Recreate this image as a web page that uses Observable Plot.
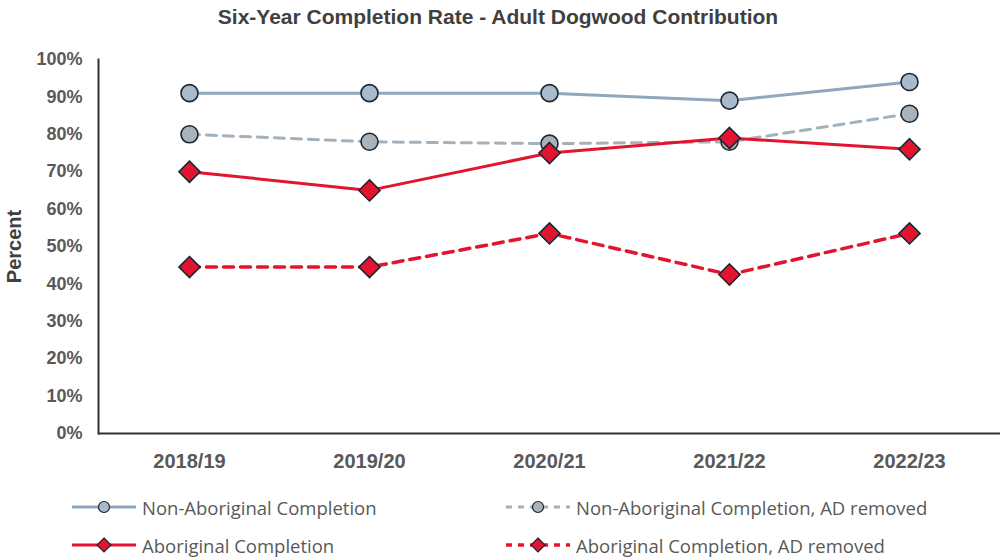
<!DOCTYPE html>
<html>
<head>
<meta charset="utf-8">
<script src="https://cdn.jsdelivr.net/npm/d3@7"></script>
<script src="https://cdn.jsdelivr.net/npm/@observablehq/plot@0.6"></script>
<style>
  html, body { margin: 0; padding: 0; background: #fff; }
  #wrap { position: relative; width: 1003px; height: 559px; overflow: hidden; font-family: "Liberation Sans", Arial, sans-serif; }
  #title { position: absolute; left: 0; top: 7px; width: 996px; text-align: center; font-weight: bold; font-size: 21px; line-height: 20px; color: #404040; }
  #chart { position: absolute; left: 0; top: 40px; }
  #legend { position: absolute; left: 0; top: 0; width: 1003px; height: 559px; pointer-events: none; }
  .lg { position: absolute; display: flex; align-items: center; font-family: "Open Sans", sans-serif; font-size: 18.5px; color: #595959; white-space: nowrap; }
  .lg svg { margin-right: 6px; }
</style>
</head>
<body>
<div id="wrap">
  <div id="title">Six-Year Completion Rate - Adult Dogwood Contribution</div>
  <div id="chart"></div>
  <div id="legend"></div>
</div>
<script>
const years = ["2018/19", "2019/20", "2020/21", "2021/22", "2022/23"];
const nonAboriginal = [91, 91, 91, 89, 94];
const nonAboriginalADRemoved = [80, 78, 77.5, 78, 85.5];
const aboriginal = [70, 65, 75, 79, 76];
const aboriginalADRemoved = [44.5, 44.5, 53.5, 42.5, 53.5];
const yTicks = [0, 10, 20, 30, 40, 50, 60, 70, 80, 90, 100];

const seriesInfo = [
  {name: "Non-Aboriginal Completion", values: nonAboriginal, stroke: "#8FA8BE", fill: "#A9BBCA", dash: null, width: 3, symbol: "circle"},
  {name: "Non-Aboriginal Completion, AD removed", values: nonAboriginalADRemoved, stroke: "#A3B1BD", fill: "#A8B3BC", dash: "10,7", width: 3, symbol: "circle"},
  {name: "Aboriginal Completion", values: aboriginal, stroke: "#E3142F", fill: "#E3142F", dash: null, width: 3, symbol: "diamond2"},
  {name: "Aboriginal Completion, AD removed", values: aboriginalADRemoved, stroke: "#E3142F", fill: "#E3142F", dash: "10,7", width: 3.5, symbol: "diamond2"}
];

const rows = s => years.map((y, i) => ({year: y, value: s.values[i], series: s.name}));

const marks = [];
marks.push(Plot.ruleY([0], {stroke: "#333", strokeWidth: 2}));
marks.push(Plot.frame({anchor: "left", stroke: "#333", strokeWidth: 2}));
for (const s of seriesInfo) {
  marks.push(Plot.line(rows(s), {x: "year", y: "value", stroke: s.stroke, strokeWidth: s.width, strokeDasharray: s.dash}));
}
for (const s of seriesInfo) {
  marks.push(Plot.dot(rows(s), {x: "year", y: "value", symbol: s.symbol, r: s.symbol === "circle" ? 8.5 : 9.5, fill: s.fill, stroke: "#1c2630", strokeWidth: 1.6}));
}

const chart = Plot.plot({
  width: 1003,
  height: 440,
  marginLeft: 98,
  marginRight: 3,
  marginTop: 19,
  marginBottom: 47,
  x: {type: "point", domain: years, padding: 0.5, label: null, tickSize: 0},
  y: {domain: [0, 100], label: null, tickSize: 0},
  style: {fontFamily: "'Liberation Sans', Arial, sans-serif", background: "#fff", overflow: "visible"},
  marks: [
    Plot.axisY({ticks: yTicks, tickFormat: d => d + "%", tickSize: 0, tickPadding: 16, label: null, fontSize: 18, fontWeight: "bold", fill: "#595959"}),
    Plot.axisX({tickSize: 0, tickPadding: 20, label: null, fontSize: 20, fontWeight: "bold", fill: "#595959"}),
    Plot.text(["Percent"], {frameAnchor: "left", textAnchor: "middle", dx: -84, rotate: -90, fontSize: 20, fontWeight: "bold", fill: "#404040"}),
    ...marks
  ]
});
document.getElementById("chart").appendChild(chart);

// Legend
const legendPos = [
  {left: 72, top: 507},
  {left: 506, top: 507},
  {left: 72, top: 545},
  {left: 506, top: 545}
];
const legend = document.getElementById("legend");
seriesInfo.forEach((s, i) => {
  const p = legendPos[i];
  const div = document.createElement("div");
  div.className = "lg";
  div.style.left = p.left + "px";
  div.style.top = (p.top - 12) + "px";
  div.style.height = "24px";
  const svg = d3.create("svg").attr("width", 64).attr("height", 24);
  svg.append("line").attr("x1", 0).attr("x2", 64).attr("y1", 12).attr("y2", 12)
    .attr("stroke", s.stroke).attr("stroke-width", s.width)
    .attr("stroke-dasharray", s.dash ? "6,6" : null);
  if (s.symbol === "circle") {
    svg.append("circle").attr("cx", 32).attr("cy", 12).attr("r", 5.5).attr("fill", s.fill).attr("stroke", "#1c2630").attr("stroke-width", 1.2);
  } else {
    svg.append("path").attr("d", "M32,5L39,12L32,19L25,12Z").attr("fill", s.fill).attr("stroke", "#1c2630").attr("stroke-width", 1.2);
  }
  div.appendChild(svg.node());
  const t = document.createElement("span");
  t.textContent = s.name;
  div.appendChild(t);
  legend.appendChild(div);
});
</script>
</body>
</html>
